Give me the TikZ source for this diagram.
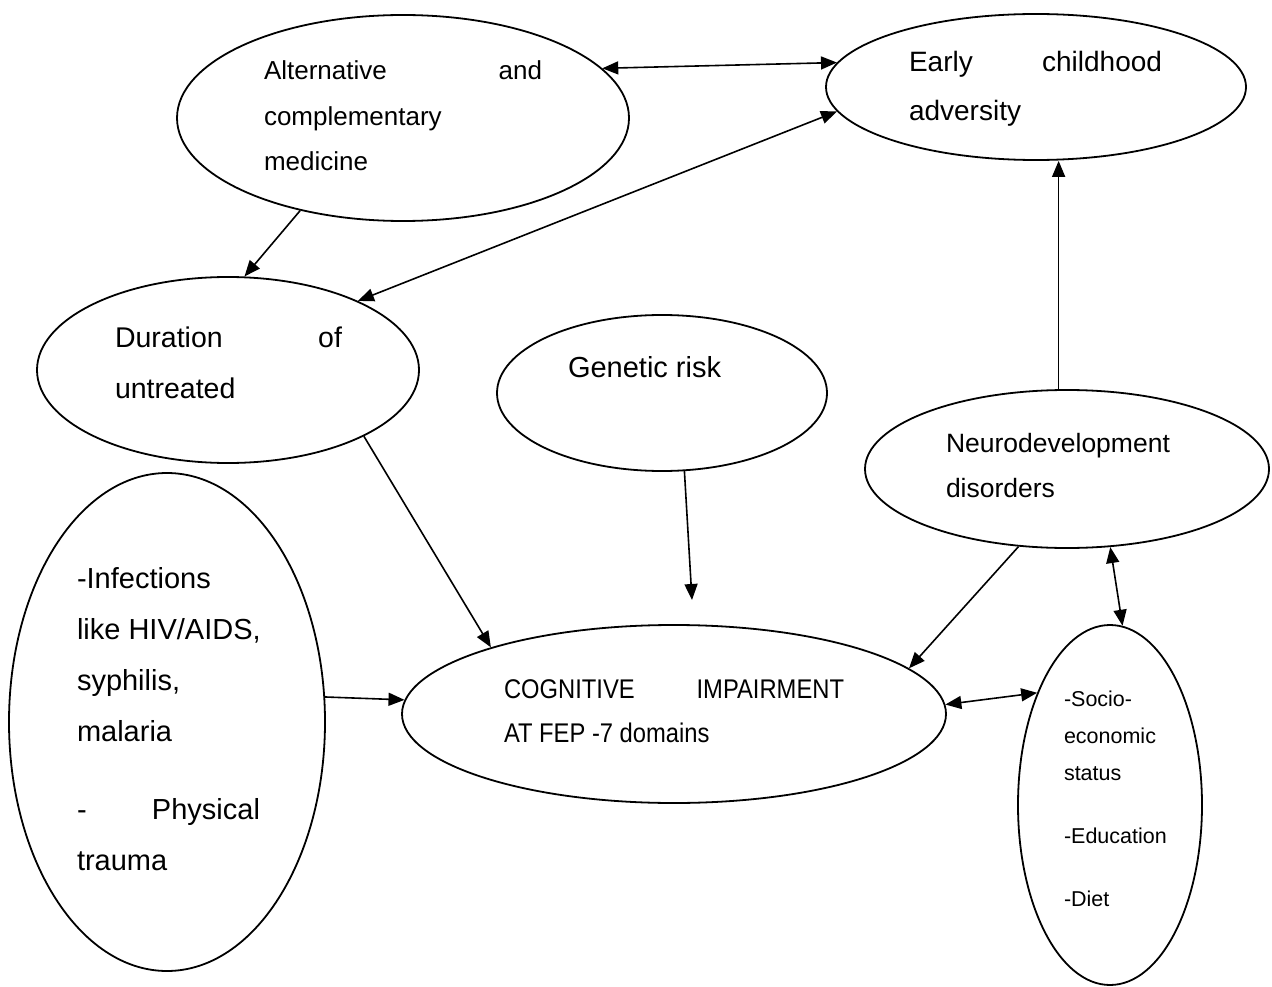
\documentclass[tikz,border=0pt]{standalone}
\usepackage{fontspec}
\setmainfont{Liberation Sans}
\newfontfamily\narrowsans[FakeStretch=0.88]{Liberation Sans}
\usetikzlibrary{shapes.geometric,arrows.meta}

% stacked lines with a fixed baseline distance; the node's baseline is the first line's
\newcommand\stack[2]{\vtop{\baselineskip=#1pt\lineskiplimit=-1000pt\lineskip=0pt #2}}
\newcommand\fs[1]{\fontsize{#1}{#1}\selectfont}

\begin{document}
\begin{tikzpicture}[x=1pt,y=-1pt,
  ell/.style={draw, ellipse, line width=1.8pt, inner sep=0pt},
  lbl/.style={anchor=base west, inner sep=0pt, outer sep=0pt},
  arr/.style={-{Triangle[length=16pt,width=13pt]}, line width=1.6pt},
  biarr/.style={{Triangle[length=16pt,width=13pt]}-{Triangle[length=16pt,width=13pt]}, line width=1.6pt}]
\useasboundingbox (0,0) rectangle (1272,987);

% ellipses
\node[ell, minimum width=452pt, minimum height=206pt] (alt)   at (403,118)  {};
\node[ell, minimum width=420pt, minimum height=146pt] (early) at (1036,87)  {};
\node[ell, minimum width=382pt, minimum height=186pt] (dur)   at (228,370)  {};
\node[ell, minimum width=330pt, minimum height=156pt] (gen)   at (662,393)  {};
\node[ell, minimum width=404pt, minimum height=158pt] (neuro) at (1067,469) {};
\node[ell, minimum width=316pt, minimum height=498pt] (inf)   at (167,722)  {};
\node[ell, minimum width=544pt, minimum height=178pt] (cog)   at (674,714)  {};
\node[ell, minimum width=184pt, minimum height=360pt] (socio) at (1110,805) {};

% texts
\node[lbl] (altT) at (264,80) {\fs{26}\stack{45.5}{\hbox to 278pt{Alternative\hfill and}\hbox{complementary}\hbox{medicine}}};
\node[lbl] (earlyT) at (909,72) {\fs{28}\stack{49}{\hbox to 253pt{Early\hfill childhood}\hbox{adversity}}};
\node[lbl] (durT) at (115,347) {\fs{28.5}\stack{51}{\hbox to 227pt{Duration\hfill of}\hbox{untreated}}};
\node[lbl] (genT) at (568,377) {\fs{29}Genetic risk};
\node[lbl] (neuroT) at (946,452) {\fs{26.5}\stack{45}{\hbox{Neurodevelopment}\hbox{disorders}}};
\node[lbl] (infT) at (77,588) {\fs{29}\stack{51}{\hbox{-Infections}\hbox{like HIV/AIDS,}\hbox{syphilis,}\hbox{malaria}\vskip 27pt\hbox to 183pt{-\hfill Physical}\hbox{trauma}}};
\node[lbl] (cogT) at (504,698) {\narrowsans\fs{27}\stack{44}{\hbox to 340pt{COGNITIVE\hfill IMPAIRMENT}\hbox{AT FEP -7 domains}}};
\node[lbl] (socioT) at (1064,706) {\fs{21.5}\stack{37}{\hbox{-Socio-}\hbox{economic}\hbox{status}\vskip 26pt\hbox{-Education}\vskip 26pt\hbox{-Diet}}};

% free end of the genetic-risk arrow
\coordinate (gtip) at (692,600);

% connectors
\draw[biarr] (alt.14) -- (early.173.5);
\draw[biarr] (early.187.2) -- (dur.28.3);
\draw[arr] (alt.222) -- (dur.80.3);
\draw[arr] (neuro.96.5) -- (neuro.96.5 |- early.south);
\draw[arr] (dur.-26.1) -- (cog.160.4);
\draw[arr] (gen.-74.2) -- (gtip);
\draw[arr] (neuro.238.9) -- (cog.11.2);
\draw[biarr] (neuro.-61) -- (socio.86.8);
\draw[arr] (inf.9.5) -- (cog.177.5);
\draw[biarr] (cog.2) -- (socio.123.6);
\end{tikzpicture}
\end{document}
